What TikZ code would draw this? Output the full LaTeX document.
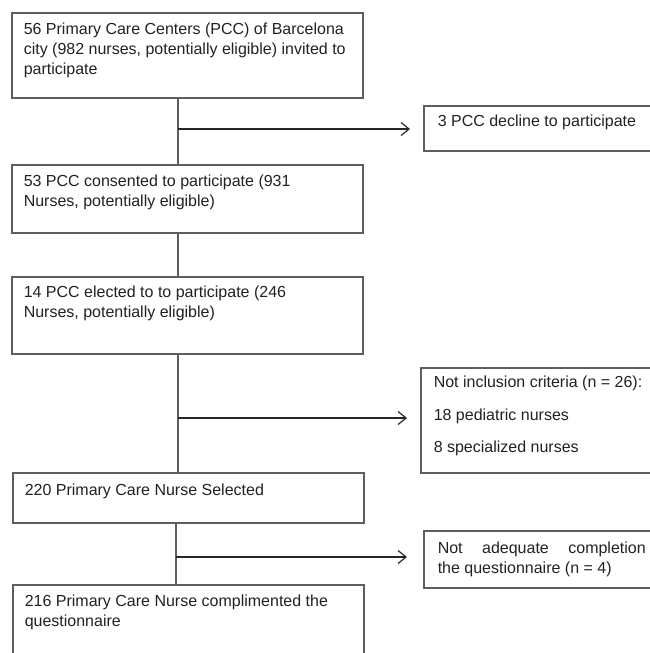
\documentclass[tikz,border=0pt]{standalone}
\usepackage{fontspec}
\setmainfont{Liberation Sans}
\usetikzlibrary{arrows.meta}
\definecolor{boxgray}{HTML}{5E5E5E}
\definecolor{txt}{HTML}{222222}
\newcommand{\bxt}[4][22pt]{\parbox[t][#3][t]{#2}{\rule{0pt}{#1}#4}}
\begin{document}
\begin{tikzpicture}[x=1pt,y=-1pt,
  box/.style={draw=boxgray, line width=1.5pt, anchor=north west, inner xsep=12pt, inner ysep=0pt,
    font=\fontsize{16}{20}\selectfont, text=txt},
  vline/.style={draw=boxgray, line width=2pt},
  hline/.style={draw=black!85, line width=1.2pt,
    -{Straight Barb[length=8pt,width=13pt,line width=1.2pt]}}]
\useasboundingbox (0,0) rectangle (650,653);
\clip (0,0) rectangle (650,653);
\fill[white] (0,0) rectangle (650,653);

\node[box] (b1) at (11,12) {\bxt{327pt}{85pt}{\raggedright 56 Primary Care Centers (PCC) of Barcelona\\ city (982 nurses, potentially eligible) invited to\\ participate}};
\node[box, inner xsep=14pt] (b2) at (423,105) {\bxt[21pt]{250pt}{45pt}{\raggedright 3 PCC decline to participate}};
\node[box] (b3) at (11,164) {\bxt{327pt}{68pt}{\raggedright 53 PCC consented to participate (931\\ Nurses, potentially eligible)}};
\node[box] (b4) at (11,276) {\bxt[21pt]{327pt}{77pt}{\raggedright 14 PCC elected to to participate (246\\ Nurses, potentially eligible)}};
\node[box, inner xsep=13pt] (b5) at (420,367) {\bxt[19.5pt]{250pt}{105pt}{\raggedright Not inclusion criteria (n = 26):\\[13pt] 18 pediatric nurses\\[12pt] 8 specialized nurses}};
\node[box] (b6) at (12,472) {\bxt[23pt]{327pt}{50pt}{\raggedright 220 Primary Care Nurse Selected}};
\node[box, inner xsep=14pt] (b7) at (423,530) {\bxt[23pt]{208pt}{57pt}{Not adequate completion\linebreak the questionnaire (n = 4)}};
\node[box] (b8) at (12,584) {\bxt{327pt}{90pt}{\raggedright 216 Primary Care Nurse complimented the\\ questionnaire}};

\coordinate (j1) at (178,129);
\coordinate (j2) at (178,418);
\coordinate (j3) at (176,557);

\draw[vline] (b1.south -| j1) -- (b3.north -| j1);
\draw[hline, shorten >=13pt] (j1) -- (b2.west |- j1);
\draw[vline] (b3.south -| j2) -- (b4.north -| j2);
\draw[vline] (b4.south -| j2) -- (b6.north -| j2);
\draw[hline, shorten >=13pt] (j2) -- (b5.west |- j2);
\draw[vline] (b6.south -| j3) -- (b8.north -| j3);
\draw[hline, shorten >=16pt] (j3) -- (b7.west |- j3);
\end{tikzpicture}
\end{document}
